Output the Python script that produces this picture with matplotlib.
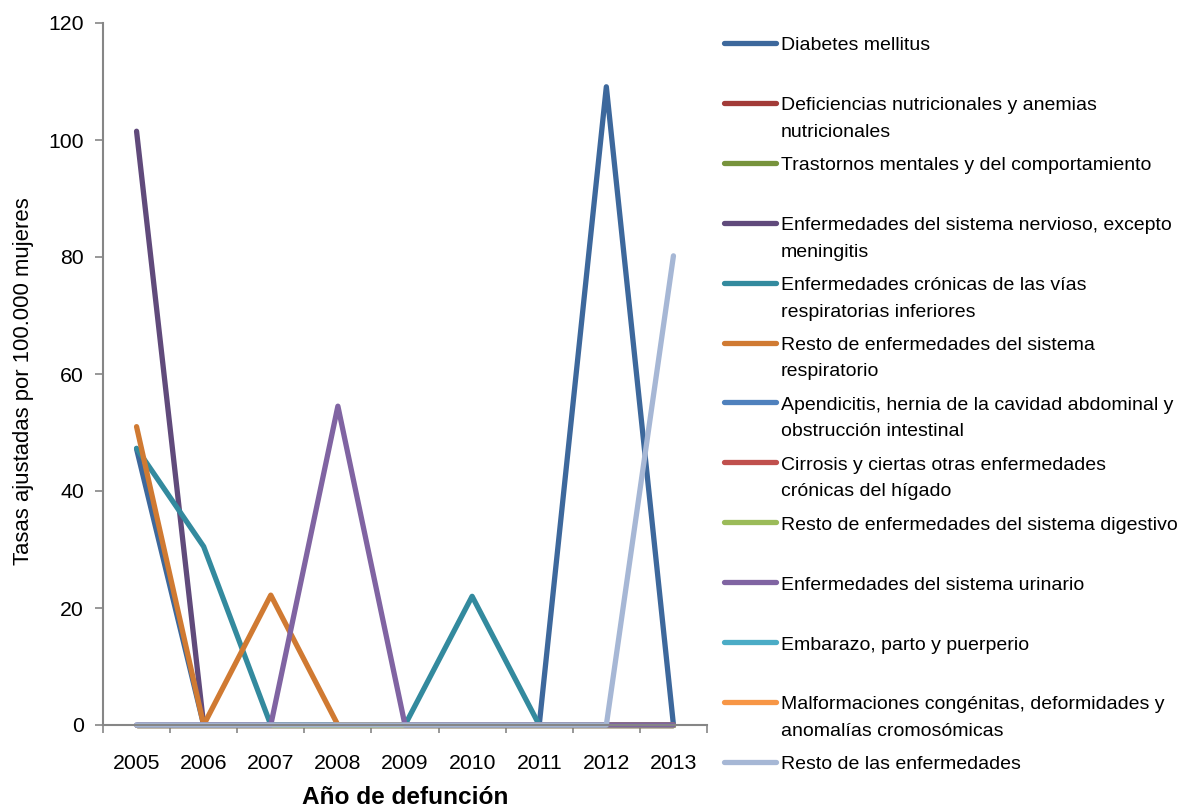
import matplotlib
matplotlib.use("Agg")
import matplotlib.pyplot as plt
from matplotlib import font_manager
from matplotlib.lines import Line2D
import numpy as np

# ---- data -------------------------------------------------------------
years = ["2005", "2006", "2007", "2008", "2009", "2010", "2011", "2012", "2013"]

series_names = [
    "Diabetes mellitus",
    "Deficiencias nutricionales y anemias\nnutricionales",
    "Trastornos mentales y del comportamiento",
    "Enfermedades del sistema nervioso, excepto\nmeningitis",
    "Enfermedades crónicas de las vías\nrespiratorias inferiores",
    "Resto de enfermedades del sistema\nrespiratorio",
    "Apendicitis, hernia de la cavidad abdominal y\nobstrucción intestinal",
    "Cirrosis y ciertas otras enfermedades\ncrónicas del hígado",
    "Resto de enfermedades del sistema digestivo",
    "Enfermedades del sistema urinario",
    "Embarazo, parto y puerperio",
    "Malformaciones congénitas, deformidades y\nanomalías cromosómicas",
    "Resto de las enfermedades",
]

nan = np.nan
diabetes = [47.2, 0, 0, 0, 0, 0, 0, 109.1, 0]
deficiencias = [0, 0, 0, 0, 0, 0, 0, 0, 0]
trastornos = [0, 0, 0, 0, 0, 0, 0, 0, 0]
nervioso = [101.5, 0, 0, 0, 0, 0, 0, 0, 0]
cronicas_resp = [47.3, 30.5, 0, 0, 0, 22.0, 0, 0, 0]
resto_resp = [51.0, 0, 22.2, 0, 0, 0, 0, 0, 0]
apendicitis = [0, 0, 0, 0, 0, 0, 0, 0, 0]
cirrosis = [0, 0, 0, 0, 0, 0, 0, 0, 0]
resto_digestivo = [0, 0, 0, 0, 0, 0, 0, 0, 0]
urinario = [0, 0, 0, 54.5, 0, 0, 0, 0, 0]
embarazo = [nan] * 9
malformaciones = [nan] * 9
resto_enf = [0, 0, 0, 0, 0, 0, 0, 0, 80.2]

all_values = [diabetes, deficiencias, trastornos, nervioso, cronicas_resp,
              resto_resp, apendicitis, cirrosis, resto_digestivo, urinario,
              embarazo, malformaciones, resto_enf]

colors = ["#3D689C", "#A23B38", "#77933C", "#604A7B", "#338A9E", "#D07A32",
          "#4F81BD", "#C0504D", "#9BBB59", "#8064A2", "#4BACC6", "#F79646",
          "#A6B7D5"]

# ---- fonts ------------------------------------------------------------
available = {f.name for f in font_manager.fontManager.ttflist}
if "Liberation Sans Narrow" in available:
    FONT, scale = "Liberation Sans Narrow", 1.2
else:
    FONT, scale = "Liberation Sans", 1.0
plt.rcParams["font.family"] = [FONT, "DejaVu Sans"]

fs_legend = 14.0 * scale
fs_ticks = 15.3 * scale
axis_grey = "#868686"

# ---- figure -------------------------------------------------------------
W, H = 1181, 808
fig = plt.figure(figsize=(W / 100, H / 100), dpi=100)
ax = fig.add_axes([103 / W, 1 - 725 / H, (707 - 103) / W, (725 - 23) / H])

x = np.arange(len(years))
for vals, col in zip(all_values, colors):
    ax.plot(x, vals, color=col, lw=3.8, solid_capstyle="round",
            solid_joinstyle="round", clip_on=False)

ax.set_xlim(-0.5, len(years) - 0.5)
ax.set_ylim(0, 120)
ax.set_yticks(np.arange(0, 121, 20))
ax.set_xticks(np.arange(-0.5, len(years), 1.0))
ax.set_xticklabels([])
ax.set_xticks(x, minor=True)
ax.set_xticklabels(years, minor=True)
ax.tick_params(axis="x", which="minor", length=0, pad=21, labelsize=fs_ticks)
ax.tick_params(axis="x", which="major", length=5.5, width=1.2, color=axis_grey)
ax.tick_params(axis="y", length=5.8, width=1.2, color=axis_grey,
               labelsize=fs_ticks, pad=8)

for side in ("top", "right"):
    ax.spines[side].set_visible(False)
for side in ("left", "bottom"):
    ax.spines[side].set_color(axis_grey)
    ax.spines[side].set_linewidth(1.5)

ax.set_ylabel("Tasas ajustadas por 100.000 mujeres", fontsize=15.9 * scale)
ax.yaxis.set_label_coords((23 - 103) / (707 - 103), (725 - 381) / (725 - 23))
ax.yaxis.label.set_va("center")
fig.text(405 / W, 1 - 797 / H, "Año de defunción", fontsize=17.6 * scale,
         fontweight="bold", ha="center", va="center")

# ---- legend (one slot of equal height per series) ---------------------
slot = 59.9
line_gap = 26.5
for i, (name, col) in enumerate(zip(series_names, colors)):
    yc = 43 + slot * i
    fig.add_artist(Line2D([724 / W, 776 / W], [1 - yc / H, 1 - yc / H],
                          color=col, lw=3.8, solid_capstyle="round",
                          transform=fig.transFigure))
    for j, part in enumerate(name.split("\n")):
        fig.text(781 / W, 1 - (yc + 7.5 + j * line_gap) / H, part,
                 fontsize=fs_legend, ha="left", va="baseline")

fig.savefig("out.png", dpi=100)
